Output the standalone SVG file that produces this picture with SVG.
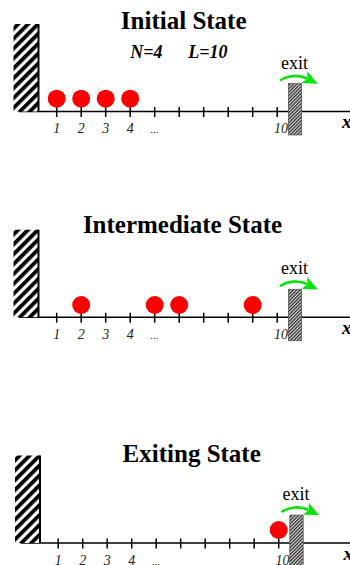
<svg xmlns="http://www.w3.org/2000/svg" width="350" height="565" viewBox="0 0 350 565">
<style>
.title{font-family:"Liberation Serif","DejaVu Serif",serif;font-weight:bold;font-size:25px;text-anchor:middle;fill:#000}
.param{font-family:"Liberation Serif","DejaVu Serif",serif;font-weight:bold;font-style:italic;font-size:18px;text-anchor:middle;fill:#000}
.num{font-family:"Liberation Serif","DejaVu Serif",serif;font-style:italic;font-size:14px;text-anchor:middle;fill:#222}
.exit{font-family:"Liberation Serif","DejaVu Serif",serif;font-size:18px;text-anchor:middle;fill:#000}
.xl{font-family:"Liberation Serif","DejaVu Serif",serif;font-weight:bold;font-style:italic;font-size:19px;fill:#000}
.axis{stroke:#000;stroke-width:1.5;fill:none}
.tick{stroke:#000;stroke-width:1.5}
.wall{fill:url(#hatch)}
.wallEdge{stroke:#000;stroke-width:2}
.barrier{fill:url(#fine);stroke:#444;stroke-width:0.6}
.dot{fill:#ff0000}
.arrow{stroke:#00e600;stroke-width:2.6;fill:none}
</style>
<defs>
<pattern id="hatch" patternUnits="userSpaceOnUse" width="7" height="7" patternTransform="rotate(45)">
<rect x="0" y="0" width="7" height="7" fill="#fff"/>
<rect x="0" y="0" width="3.8" height="7" fill="#000"/>
</pattern>
<pattern id="fine" patternUnits="userSpaceOnUse" width="2.4" height="2.4" patternTransform="rotate(45)">
<rect x="0" y="0" width="2.4" height="2.4" fill="#ddd"/>
<rect x="0" y="0" width="1.2" height="2.4" fill="#222"/>
</pattern>
<marker id="ah" markerUnits="userSpaceOnUse" markerWidth="15" markerHeight="13" viewBox="0 0 15 13" refX="3" refY="6.5" orient="auto">
<path d="M0,0 L15,6.5 L0,13 L3.5,6.5 Z" fill="#00e600"/>
</marker>
<g id="axisTpl">
<line class="axis" x1="19" y1="111.5" x2="350" y2="111.5"/>
<line class="tick" x1="56.7" y1="107" x2="56.7" y2="117"/>
<line class="tick" x1="81.2" y1="107" x2="81.2" y2="117"/>
<line class="tick" x1="105.7" y1="107" x2="105.7" y2="117"/>
<line class="tick" x1="130.2" y1="107" x2="130.2" y2="117"/>
<line class="tick" x1="154.7" y1="107" x2="154.7" y2="117"/>
<line class="tick" x1="179.2" y1="107" x2="179.2" y2="117"/>
<line class="tick" x1="203.7" y1="107" x2="203.7" y2="117"/>
<line class="tick" x1="228.2" y1="107" x2="228.2" y2="117"/>
<line class="tick" x1="252.7" y1="107" x2="252.7" y2="117"/>
<line class="tick" x1="277.2" y1="107" x2="277.2" y2="117"/>
<text class="num" x="56.7" y="133">1</text>
<text class="num" x="81.2" y="133">2</text>
<text class="num" x="105.7" y="133">3</text>
<text class="num" x="130.2" y="133">4</text>
<text class="num" x="154.7" y="133" style="font-size:11px">...</text>
<text class="num" x="281" y="133">10</text>
<text class="xl" x="342" y="128">x</text>
</g>
<g id="wallTpl">
<rect class="wall" x="13.5" y="24" width="25" height="87.5"/>
<line class="wallEdge" x1="38.5" y1="24" x2="38.5" y2="111.5"/>
</g>
<g id="exitTpl">
<rect class="barrier" x="288.3" y="83.5" width="13.4" height="51.5"/>
<text class="exit" x="294.5" y="68.5">exit</text>
</g>
</defs>

<!-- Panel 1: Initial State -->
<g id="panel1">
<text id="title1" class="title" x="183.7" y="28.5">Initial State</text>
<text id="paramN" class="param" x="146.3" y="58">N=4</text>
<text id="paramL" class="param" x="208" y="58">L=10</text>
<g id="axis1"><use href="#axisTpl"/></g>
<g id="wall1"><use href="#wallTpl"/></g>
<g id="exit1"><use href="#exitTpl"/></g>
<g id="p1a"><circle class="dot" cx="56.7" cy="98.7" r="9"/></g>
<g id="p1b"><circle class="dot" cx="81.2" cy="98.7" r="9"/></g>
<g id="p1c"><circle class="dot" cx="105.7" cy="98.7" r="9"/></g>
<g id="p1d"><circle class="dot" cx="130.2" cy="98.7" r="9"/></g>
</g>

<!-- Panel 2: Intermediate State -->
<g id="panel2" transform="translate(0,205.7)">
<text id="title2" class="title" x="182.5" y="27.6">Intermediate State</text>
<g id="axis2"><use href="#axisTpl"/></g>
<g id="wall2"><use href="#wallTpl"/></g>
<g id="exit2"><use href="#exitTpl"/></g>
<g id="p2a"><circle class="dot" cx="81.2" cy="99.3" r="9"/></g>
<g id="p2b"><circle class="dot" cx="154.7" cy="99.3" r="9"/></g>
<g id="p2c"><circle class="dot" cx="179.2" cy="99.3" r="9"/></g>
<g id="p2d"><circle class="dot" cx="252.7" cy="99.3" r="9"/></g>
</g>

<!-- Panel 3: Exiting State -->
<g id="panel3" transform="translate(1.5,431.5)">
<text id="title3" class="title" x="190.2" y="30.2">Exiting State</text>
<g id="axis3"><use href="#axisTpl"/></g>
<g id="wall3"><use href="#wallTpl"/></g>
<g id="exit3"><use href="#exitTpl"/></g>
<g id="p3a"><circle class="dot" cx="277.2" cy="98.5" r="9"/></g>
</g>

<g id="connectors">
<path class="arrow" marker-end="url(#ah)" d="M280,80.5 C288,75 299,74.5 307,78.5"/>
<path class="arrow" marker-end="url(#ah)" d="M280,286.2 C288,280.7 299,280.2 307,284.2"/>
<path class="arrow" marker-end="url(#ah)" d="M281.5,512 C289.5,506.5 300.5,506 308.5,510"/>
</g>
</svg>
